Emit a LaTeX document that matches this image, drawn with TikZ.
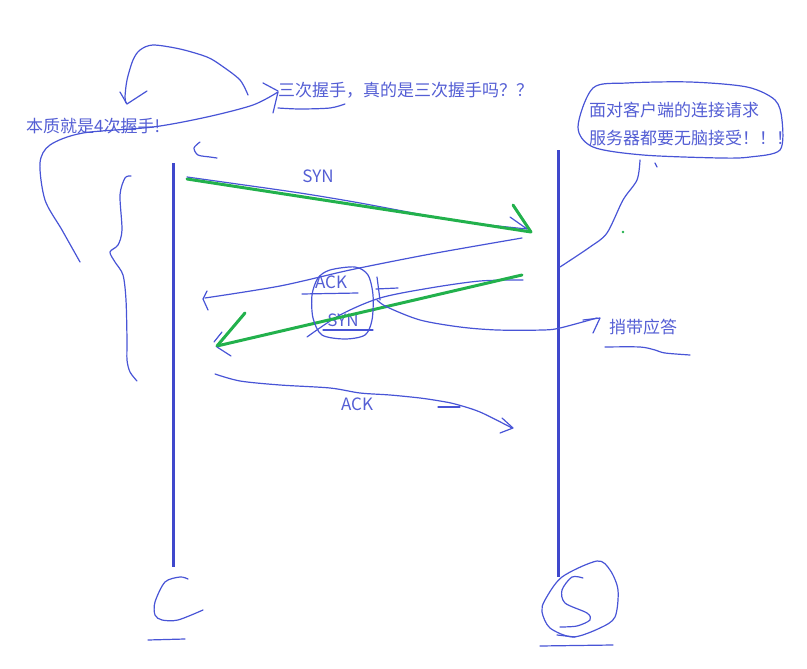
\documentclass[tikz,border=0pt]{standalone}
\usepackage{fontspec}
\setmainfont{Noto Sans CJK SC}
\usetikzlibrary{positioning}
\definecolor{inkblue}{RGB}{63,72,204}
\definecolor{penblue}{RGB}{72,84,214}
\definecolor{textblue}{RGB}{84,94,212}
\definecolor{markgreen}{RGB}{34,177,76}
\tikzset{
  lifeline/.style={inkblue,line width=3pt},
  pen/.style={penblue,line width=1.2pt,line cap=round,line join=round},
  marker/.style={markgreen,line width=3pt,line cap=round,line join=round},
  note/.style={textblue,font=\fontsize{17}{21}\selectfont,inner sep=0pt,anchor=west},
}
\begin{document}
\begin{tikzpicture}[x=1pt,y=-1pt]
  \useasboundingbox (0,0) rectangle (807,669);

  % lifelines
  \coordinate (client top) at (173,163);
  \coordinate (client end) at (173,567);
  \coordinate (server top) at (558,150);
  \coordinate (server end) at (558,577);
  \draw[lifeline] (client top) -- (client end);
  \draw[lifeline] (server top) -- (server end);

  % notes
  \node[note] (question) at (278,90) {三次握手，真的是三次握手吗？？};
  \node[note] (four) at (26,126) {本质就是4次握手!};
  \node[note] (accept1) at (589,110) {面对客户端的连接请求};
  \node[note] (accept2) at (589,138) {服务器都要无脑接受！！！};
  \node[note,anchor=center] (syn1) at (318,176) {SYN};
  \node[note,anchor=center] (ack1) at (331,282) {ACK};
  \node[note,anchor=center] (syn2) at (343,320) {SYN};
  \node[note,anchor=center] (piggy) at (643,327) {捎带应答};
  \node[note,anchor=center] (ack2) at (357,404) {ACK};

  % loop over the question
  \draw[pen] plot[smooth] coordinates {(248,95) (240,80) (222,66) (207,57) (180,49) (153,45) (140,50) (133,60) (127,80) (125,97) (126,103)};
  \draw[pen] (120,92) -- (127,104) -- (147,91);

  % curve from the question down the left side
  \draw[pen] plot[smooth] coordinates {(278,92) (253,105) (207,117) (153,127) (83,133) (50,145) (40,163) (45,200) (62,230) (80,262)};
  \draw[pen] (263,83) -- (278,91);
  \draw[pen] (273,113) -- (278,92);
  \draw[pen] plot[smooth] coordinates {(278,108) (300,109) (330,108) (345,104)};

  % wavy brace left of the client
  \draw[pen] plot[smooth] coordinates {(131,176) (125,178) (120,195) (122,230) (118,245) (110,252) (115,262) (123,275) (126,300) (127,340) (127,360) (130,372) (137,381)};
  \draw[pen] plot[smooth] coordinates {(200,142) (194,148) (198,155) (210,157) (217,158)};

  % first SYN
  \coordinate (syn from) at (187,179);
  \coordinate (syn to) at (531,232);
  \draw[pen] plot[smooth] coordinates {(187,177) (230,183) (300,193) (360,203) (440,218) (480,224) (527,229)};
  \draw[pen] (510,217) -- (527,229);
  \draw[marker] (syn from) -- (syn to);
  \draw[marker] (513,205) -- (syn to);

  % ACK back to the client
  \draw[pen] plot[smooth] coordinates {(522,238) (470,247) (420,256) (350,270) (280,286) (205,298)};
  \draw[pen] (207,291) -- (203,299) -- (208,310);

  % SYN back to the client
  \coordinate (back from) at (522,275);
  \coordinate (back to) at (217,346);
  \draw[pen] plot[smooth] coordinates {(523,280) (480,281) (430,288) (380,298) (340,315) (307,337)};
  \draw[marker] (back from) -- (back to);
  \draw[marker] (245,313) -- (back to);
  \draw[pen] (222,332) -- (214,342);
  \draw[pen] (217,347) -- (231,356);

  % blob round ACK / SYN
  \draw[pen] plot[smooth cycle] coordinates {(330,270) (355,267) (368,275) (373,295) (372,320) (365,335) (345,339) (322,335) (313,318) (312,295) (318,278)};
  \draw[pen] (302,294) -- (358,293);
  \draw[pen] (323,330) -- (373,330);
  \draw[pen] (377,277) -- (380,300);
  \draw[pen] (376,289) -- (398,288);

  % to the piggyback note
  \draw[pen] plot[smooth] coordinates {(377,300) (387,307) (420,320) (460,327) (497,330) (543,330) (560,328) (597,318)};
  \draw[pen] (583,320) -- (600,318) -- (593,333);
  \draw[pen] plot[smooth] coordinates {(605,347) (640,347) (655,350) (665,353) (690,355)};

  % last ACK
  \draw[pen] plot[smooth] coordinates {(215,374) (240,381) (280,385) (330,388) (360,393) (390,395) (420,398) (440,401) (455,404) (480,412) (512,428)};
  \draw[pen] (502,418) -- (513,428) -- (500,433);
  \draw[pen] (438,407) -- (460,407);

  % speech bubble
  \draw[pen] plot[smooth cycle] coordinates {(593,88) (627,83) (690,82) (747,87) (775,100) (782,120) (780,150) (750,157) (720,158) (643,155) (593,147) (578,127)};
  \draw[pen] plot[smooth] coordinates {(640,160) (637,180) (623,200) (607,233) (590,247) (560,267)};
  \draw[pen] (655,163) -- (657,167);
  \fill[markgreen] (623,232) circle[radius=1.4];

  % scribbles under the lifelines
  \draw[pen] plot[smooth] coordinates {(188,579) (180,577) (165,582) (155,602) (155,615) (162,620) (178,620) (203,610)};
  \draw[pen] (148,640) -- (185,639);
  \draw[pen] plot[smooth cycle] coordinates {(562,577) (597,561) (610,570) (618,590) (615,617) (600,628) (573,637) (550,628) (542,612) (545,600)};
  \draw[pen] plot[smooth] coordinates {(583,578) (572,577) (562,590) (565,603) (587,613) (590,620) (577,626) (560,627)};
  \draw[pen] (557,635) -- (575,637);
  \draw[pen] (540,646) -- (613,645);
\end{tikzpicture}
\end{document}
